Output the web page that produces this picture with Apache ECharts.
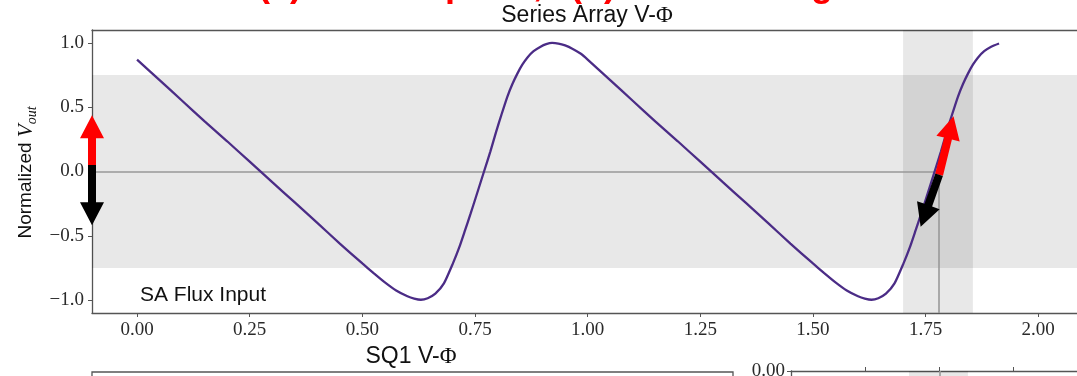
<!DOCTYPE html>
<html>
<head>
<meta charset="utf-8">
<script src="https://cdn.jsdelivr.net/npm/echarts@6/dist/echarts.min.js"></script>
<style>
  html, body { margin: 0; padding: 0; background: #fff; }
  #chart { width: 1077px; height: 376px; }
</style>
</head>
<body>
<div id="chart"></div>
<script>
// Series-array V-Phi curve: applied flux (Phi0) and normalized output voltage
const phi = [
  0.00, 0.05, 0.10, 0.15, 0.20, 0.25, 0.30, 0.35, 0.40, 0.45, 0.50, 0.525, 0.55, 0.575, 0.60, 0.615,
  0.63, 0.645, 0.662, 0.681, 0.701, 0.715, 0.728, 0.740, 0.751, 0.770, 0.784, 0.797, 0.809, 0.8215,
  0.833, 0.844, 0.855, 0.866, 0.880, 0.8955, 0.908, 0.921, 0.935, 0.950, 0.966, 0.985,
  1.00, 1.05, 1.10, 1.15, 1.20, 1.25, 1.30, 1.35, 1.40, 1.45, 1.50, 1.525, 1.55, 1.575, 1.60, 1.615,
  1.63, 1.645, 1.662, 1.681, 1.701, 1.715, 1.728, 1.740, 1.751, 1.770, 1.784, 1.797, 1.809, 1.8215,
  1.833, 1.844, 1.855, 1.866, 1.880, 1.8955, 1.913
];
const vout = [
  0.87, 0.71, 0.55, 0.39, 0.235, 0.076, -0.083, -0.24, -0.40, -0.56, -0.715, -0.79, -0.862, -0.925, -0.970, -0.988,
  -0.997, -0.985, -0.95, -0.87, -0.714, -0.59, -0.456, -0.33, -0.21, 0.0, 0.155, 0.31, 0.445, 0.579,
  0.68, 0.761, 0.83, 0.885, 0.935, 0.97, 0.99, 1.0, 0.995, 0.98, 0.955, 0.915,
  0.87, 0.71, 0.55, 0.39, 0.235, 0.076, -0.083, -0.24, -0.40, -0.56, -0.715, -0.79, -0.862, -0.925, -0.970, -0.988,
  -0.997, -0.985, -0.95, -0.87, -0.714, -0.59, -0.456, -0.33, -0.21, 0.0, 0.155, 0.31, 0.445, 0.579,
  0.68, 0.761, 0.83, 0.885, 0.935, 0.97, 0.995
];

// Axis ticks and ranges
const xTicks = [0, 0.25, 0.5, 0.75, 1.0, 1.25, 1.5, 1.75, 2.0];
const yTicks = [-1.0, -0.5, 0.0, 0.5, 1.0];
const xRange = [-0.1, 2.086];
const yRange = [-1.1, 1.1];

// Linear output window and flux window around the lock point
const voutWindow = [-0.75, 0.75];
const phiWindow = [1.70, 1.855];
const lockPoint = [1.78, 0.0];

// Arrows: [tailX, tailY, tipX, tipY]
const arrowSegments = [
  [-0.1, 0.05, -0.1, 0.437],
  [-0.1, 0.05, -0.1, -0.417],
  [1.780, -0.025, 1.812, 0.43],
  [1.780, -0.025, 1.739, -0.43]
];
const arrowColors = ['#ff0000', '#000000', '#ff0000', '#000000'];

// Lower-right detail axes
const detailXRange = [1.39, 2.1415];
const detailXTicks = [1.585, 1.78, 1.975];
const detailYRange = [-1, 0];
const detailYTicks = [0];

const AX = '#555';
const BAND = 'rgba(0,0,0,0.09)';
const LABEL_FONT = 'Liberation Serif';
const LABEL_COLOR = '#2a2a2a';

const fmtX = v => v.toFixed(2);
const fmtY = v => (v < 0 ? '\u2212' : '') + Math.abs(v).toFixed(1);

const chart = echarts.init(document.getElementById('chart'), null, { renderer: 'canvas' });

function arrowItem(params, api) {
  const t = api.coord([api.value(0), api.value(1)]);
  const h = api.coord([api.value(2), api.value(3)]);
  const dx = h[0] - t[0], dy = h[1] - t[1];
  const len = Math.sqrt(dx * dx + dy * dy);
  const ux = dx / len, uy = dy / len;
  const nx = -uy, ny = ux;
  const headLen = 23, headHalf = 12, shaftHalf = 4;
  const bx = h[0] - ux * headLen, by = h[1] - uy * headLen;
  const pts = [
    [t[0] + nx * shaftHalf, t[1] + ny * shaftHalf],
    [bx + nx * shaftHalf, by + ny * shaftHalf],
    [bx + nx * headHalf, by + ny * headHalf],
    [h[0], h[1]],
    [bx - nx * headHalf, by - ny * headHalf],
    [bx - nx * shaftHalf, by - ny * shaftHalf],
    [t[0] - nx * shaftHalf, t[1] - ny * shaftHalf]
  ];
  return {
    type: 'polygon',
    shape: { points: pts },
    style: { fill: arrowColors[params.dataIndex] }
  };
}

const spine = { show: true, onZero: false, lineStyle: { color: AX, width: 1.3 } };
const tickFont = { fontFamily: LABEL_FONT, fontSize: 19, color: LABEL_COLOR };

const option = {
  backgroundColor: '#fff',
  animation: false,
  grid: [
    { left: 92, top: 30, width: 985, height: 283 },
    { left: 92, top: 372, width: 641, height: 200, show: true,
      borderColor: AX, borderWidth: 1.3, backgroundColor: 'transparent' },
    { left: 791, top: 371, width: 286, height: 200 }
  ],
  xAxis: [
    {
      gridIndex: 0, type: 'value', min: xRange[0], max: xRange[1],
      axisLine: spine,
      axisTick: { show: true, length: 4, customValues: xTicks, lineStyle: { color: AX } },
      axisLabel: Object.assign({ customValues: xTicks, formatter: fmtX, margin: 8 }, tickFont),
      splitLine: { show: false }
    },
    { gridIndex: 1, type: 'value', min: 0, max: 1, show: false },
    {
      gridIndex: 2, type: 'value', min: detailXRange[0], max: detailXRange[1], position: 'top',
      axisLine: spine,
      axisTick: { show: true, length: 4, customValues: detailXTicks, lineStyle: { color: AX } },
      axisLabel: { show: false },
      splitLine: { show: false }
    },
    {
      // top spine of the main panel
      gridIndex: 0, type: 'value', min: xRange[0], max: xRange[1], position: 'top',
      axisLine: spine, axisTick: { show: false }, axisLabel: { show: false },
      splitLine: { show: false }
    }
  ],
  yAxis: [
    {
      gridIndex: 0, type: 'value', min: yRange[0], max: yRange[1],
      axisLine: spine,
      axisTick: { show: true, length: 4, customValues: yTicks, lineStyle: { color: AX } },
      axisLabel: Object.assign({ customValues: yTicks, formatter: fmtY, margin: 8 }, tickFont),
      splitLine: { show: false }
    },
    { gridIndex: 1, type: 'value', min: 0, max: 1, show: false },
    {
      gridIndex: 2, type: 'value', min: detailYRange[0], max: detailYRange[1],
      axisLine: spine,
      axisTick: { show: true, length: 4, customValues: detailYTicks, lineStyle: { color: AX } },
      axisLabel: Object.assign({ customValues: detailYTicks, formatter: v => v.toFixed(2), margin: 6 }, tickFont),
      splitLine: { show: false }
    }
  ],
  series: [
    {
      // shaded windows and lock-point guides
      type: 'line', xAxisIndex: 0, yAxisIndex: 0, data: [], z: 1, silent: true,
      markArea: {
        silent: true,
        itemStyle: { color: BAND },
        data: [
          [{ yAxis: voutWindow[0] }, { yAxis: voutWindow[1] }],
          [{ xAxis: phiWindow[0] }, { xAxis: phiWindow[1] }]
        ]
      },
      markLine: {
        silent: true, symbol: 'none', animation: false,
        label: { show: false },
        lineStyle: { color: '#999', width: 1.6, type: 'solid' },
        data: [
          [{ coord: [xRange[0], lockPoint[1]] }, { coord: [lockPoint[0], lockPoint[1]] }],
          [{ coord: [lockPoint[0], lockPoint[1]] }, { coord: [lockPoint[0], yRange[0]] }]
        ]
      }
    },
    {
      name: 'SA V-Phi', type: 'line', xAxisIndex: 0, yAxisIndex: 0,
      data: phi.map((p, i) => [p, vout[i]]),
      showSymbol: false, smooth: 0.2, z: 5,
      lineStyle: { color: '#4b2c86', width: 2.3 }
    },
    {
      type: 'custom', xAxisIndex: 0, yAxisIndex: 0, z: 10, clip: false,
      renderItem: arrowItem,
      encode: { x: [0, 2], y: [1, 3] },
      data: arrowSegments
    },
    {
      type: 'line', xAxisIndex: 2, yAxisIndex: 2, data: [], z: 1, silent: true,
      markArea: {
        silent: true, itemStyle: { color: BAND },
        data: [[{ xAxis: phiWindow[0] }, { xAxis: phiWindow[1] }]]
      },
      markLine: {
        silent: true, symbol: 'none', animation: false, label: { show: false },
        lineStyle: { color: '#999', width: 1.6, type: 'solid' },
        data: [{ xAxis: lockPoint[0] }]
      }
    }
  ],
  graphic: [
    { type: 'text', x: 258, y: -14, silent: true,
      style: { text: '(a)', font: 'bold 36px "Liberation Sans"', fill: '#ff0000', verticalAlign: 'middle' } },
    { type: 'text', x: 333, y: -14, silent: true,
      style: { text: 'SA setpoint,', font: 'bold 36px "Liberation Sans"', fill: '#ff0000', verticalAlign: 'middle' } },
    { type: 'text', x: 570, y: -14, silent: true,
      style: { text: '(b)', font: 'bold 36px "Liberation Sans"', fill: '#ff0000', verticalAlign: 'middle' } },
    { type: 'text', x: 647, y: -14, silent: true,
      style: { text: 'SA locking', font: 'bold 36px "Liberation Sans"', fill: '#ff0000', verticalAlign: 'middle' } },
    { type: 'text', x: 587, y: 16, silent: true,
      style: {
        text: '{a|Series Array V-}{b|\u03A6}',
        rich: {
          a: { fontFamily: 'Liberation Sans', fontSize: 23, fill: '#111' },
          b: { fontFamily: 'Liberation Serif', fontSize: 23, fill: '#111' }
        },
        align: 'center', verticalAlign: 'middle'
      } },
    { type: 'text', x: 411, y: 357, silent: true,
      style: {
        text: '{a|SQ1 V-}{b|\u03A6}',
        rich: {
          a: { fontFamily: 'Liberation Sans', fontSize: 23, fill: '#111' },
          b: { fontFamily: 'Liberation Serif', fontSize: 23, fill: '#111' }
        },
        align: 'center', verticalAlign: 'middle'
      } },
    { type: 'text', x: 140, y: 295, silent: true,
      style: { text: 'SA Flux Input', font: '21px "Liberation Sans"', fill: '#111',
        align: 'left', verticalAlign: 'middle' } },
    { type: 'text', x: 26, y: 172.5, rotation: Math.PI / 2, silent: true,
      style: {
        text: '{n|Normalized }{v|V}{s|out}',
        rich: {
          n: { fontFamily: 'Liberation Sans', fontSize: 19, fill: '#111', lineHeight: 26, verticalAlign: 'middle' },
          v: { fontFamily: 'Liberation Serif', fontStyle: 'italic', fontSize: 21, fill: '#111', lineHeight: 26, verticalAlign: 'middle' },
          s: { fontFamily: 'Liberation Serif', fontStyle: 'italic', fontSize: 14, fill: '#111', lineHeight: 26, verticalAlign: 'bottom' }
        },
        align: 'center', verticalAlign: 'middle'
      } }
  ]
};

chart.setOption(option);
</script>
</body>
</html>
